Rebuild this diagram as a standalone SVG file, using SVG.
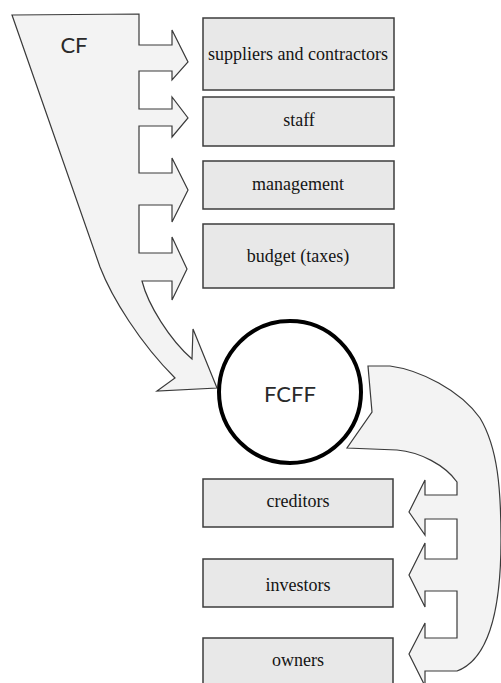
<svg xmlns="http://www.w3.org/2000/svg" width="501" height="683" viewBox="0 0 501 683">
  <style>
    .flow { fill: #f3f3f3; stroke: #3a3a3a; stroke-width: 1.2; stroke-linejoin: miter; }
    .box { fill: #e8e8e8; stroke: #3c3c3c; stroke-width: 1.5; }
    .lbl { font-family: "Liberation Serif", "Times New Roman", serif; font-size: 18px; fill: #141414; text-anchor: middle; }
    .big { font-family: Lato, "Liberation Sans", sans-serif; font-size: 22px; fill: #2a2a2a; text-anchor: middle; }
  </style>

  <rect width="501" height="683" fill="#ffffff"/>

  <g id="connectors">
    <!-- cash flow splitting into four arrows and ending on FCFF -->
    <path id="cf-flow" class="flow" d="M 12,15 L 139,14 L 139,45 L 172,45 L 172,30 L 188,62 L 172,80 L 172,71 L 139,71
      L 139,109 L 172,109 L 172,97 L 188,118 L 172,137 L 172,126 L 139,126
      L 139,173 L 172,173 L 172,158 L 188,190 L 172,222 L 172,205 L 139,205
      L 139,253 L 172,253 L 172,237 L 187,269 L 172,300 L 172,281 L 142,281
      C 148,305 170,340 192,359 L 193,329 L 217,388 L 157,391 L 175,378
      C 140,343 112,298 100,267 Z"/>
    <!-- FCFF distributed to capital providers -->
    <path id="fcff-flow" class="flow" d="M 368,366 L 390,366 C 420,370 460,390 480,418 C 498,448 501,490 501,540
      C 501,600 492,658 457,671 L 425,671 L 425,686 L 409,654 L 425,623 L 425,638 L 457,638
      L 457,591 L 425,591 L 425,607 L 409,575 L 425,543 L 425,559 L 457,559
      L 457,519 L 425,519 L 425,535 L 409,512 L 425,480 L 425,495 L 457,495
      L 457,482 C 445,465 420,452 397,450 L 347,448 L 372,412 Z"/>
  </g>

  <g id="cf">
    <text class="big" x="74" y="53">CF</text>
  </g>

  <g id="suppliers">
    <rect class="box" x="203" y="18" width="191" height="72"/>
    <text class="lbl" x="298" y="60">suppliers and contractors</text>
  </g>
  <g id="staff">
    <rect class="box" x="203" y="97" width="191" height="49"/>
    <text class="lbl" x="299" y="126">staff</text>
  </g>
  <g id="management">
    <rect class="box" x="203" y="161" width="191" height="48"/>
    <text class="lbl" x="298" y="190">management</text>
  </g>
  <g id="budget">
    <rect class="box" x="203" y="224" width="191" height="64"/>
    <text class="lbl" x="298" y="262">budget (taxes)</text>
  </g>

  <g id="fcff">
    <circle cx="290" cy="392" r="71" fill="#ffffff" stroke="#000000" stroke-width="4"/>
    <text class="big" x="290" y="402">FCFF</text>
  </g>

  <g id="creditors">
    <rect class="box" x="203" y="479" width="190" height="48"/>
    <text class="lbl" x="298" y="507">creditors</text>
  </g>
  <g id="investors">
    <rect class="box" x="203" y="559" width="190" height="48"/>
    <text class="lbl" x="298" y="591">investors</text>
  </g>
  <g id="owners">
    <rect class="box" x="203" y="638" width="190" height="60"/>
    <text class="lbl" x="298" y="666">owners</text>
  </g>
</svg>
